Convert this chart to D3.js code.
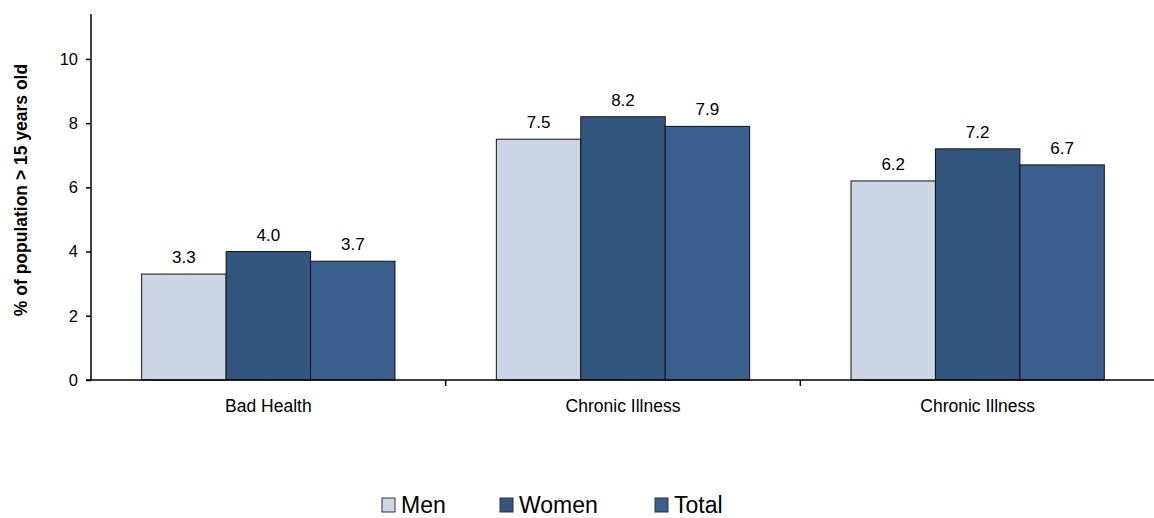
<!DOCTYPE html>
<html>
<head>
<meta charset="utf-8">
<script src="https://cdn.jsdelivr.net/npm/d3@7"></script>
<style>
  html, body { margin: 0; padding: 0; background: #fff; }
  svg { display: block; font-family: "Liberation Sans", Arial, sans-serif; }
</style>
</head>
<body>
<svg id="chart" width="1154" height="518"></svg>
<script>
// Health indicators by sex
const categories = ["Bad Health", "Chronic Illness", "Chronic Illness"];
const seriesNames = ["Men", "Women", "Total"];
const menValues = [3.3, 7.5, 6.2];
const womenValues = [4.0, 8.2, 7.2];
const totalValues = [3.7, 7.9, 6.7];
const yTicks = [0, 2, 4, 6, 8, 10];
const yMax = 11.4;
const colors = ["#CDD6E6", "#33567E", "#3B5F8C"];

const series = [menValues, womenValues, totalValues];

const svg = d3.select("#chart");
const margin = { left: 91, top: 14 };
const W = 1155;
const FONT = "Liberation Sans, Arial, sans-serif";

// one band per category, bars touching inside each band
const x0 = d3.scaleBand()
  .domain(d3.range(categories.length))
  .range([margin.left, W])
  .padding(0);

const x1 = d3.scaleBand()
  .domain(d3.range(seriesNames.length))
  .range([0, x0.bandwidth()])
  .paddingInner(0)
  .paddingOuter(0.6);

const y = d3.scaleLinear().domain([0, yMax]).range([380, margin.top]);

// bars
const groups = svg.append("g").selectAll("g")
  .data(categories)
  .join("g")
  .attr("transform", (d, i) => `translate(${x0(i)},0)`);

const cells = (d, i) => series.map((s, k) => ({ k, v: s[i] }));

groups.selectAll("rect")
  .data(cells)
  .join("rect")
  .attr("x", d => x1(d.k))
  .attr("y", d => y(d.v))
  .attr("width", x1.bandwidth())
  .attr("height", d => y(0) - y(d.v))
  .attr("fill", d => colors[d.k])
  .attr("stroke", "#111")
  .attr("stroke-width", 1);

// value labels above bars
groups.selectAll("text.val")
  .data(cells)
  .join("text")
  .attr("class", "val")
  .attr("x", d => x1(d.k) + x1.bandwidth() / 2)
  .attr("y", d => y(d.v) - 11)
  .attr("text-anchor", "middle")
  .attr("font-size", 17)
  .attr("fill", "#000")
  .text(d => d.v.toFixed(1));

// y axis
const yAxis = d3.axisLeft(y).tickValues(yTicks).tickSize(5).tickPadding(8).tickFormat(d3.format("d"));
const gy = svg.append("g").attr("transform", `translate(${margin.left},0)`).call(yAxis);
gy.select(".domain").attr("stroke", "#000").attr("stroke-width", 1.5)
  .attr("d", `M0,${y(yMax)}V${y(0)}`);
gy.selectAll(".tick line").attr("stroke", "#000").attr("stroke-width", 1.5);
gy.selectAll(".tick text").attr("font-size", 16.5).attr("fill", "#000")
  .attr("font-family", FONT);

// x axis with category separators
const gx = svg.append("g").attr("transform", `translate(0,${y(0)})`);
gx.append("line").attr("x1", margin.left - 5).attr("x2", W)
  .attr("stroke", "#000").attr("stroke-width", 1.5);
gx.selectAll("line.sep")
  .data(d3.range(1, categories.length))
  .join("line")
  .attr("class", "sep")
  .attr("x1", i => x0(i)).attr("x2", i => x0(i))
  .attr("y1", 0).attr("y2", 6)
  .attr("stroke", "#000").attr("stroke-width", 1.5);
gx.selectAll("text")
  .data(categories)
  .join("text")
  .attr("x", (d, i) => x0(i) + x0.bandwidth() / 2)
  .attr("y", 32)
  .attr("text-anchor", "middle")
  .attr("font-size", 17.5)
  .attr("fill", "#000")
  .text(d => d);

// y title
svg.append("text")
  .attr("transform", `translate(27,190) rotate(-90)`)
  .attr("text-anchor", "middle")
  .attr("font-size", 17.5)
  .attr("font-weight", "bold")
  .attr("fill", "#000")
  .text("% of population > 15 years old");

// legend
const legendX = [382, 500, 655];
const lg = svg.append("g").selectAll("g")
  .data(seriesNames)
  .join("g")
  .attr("transform", (d, i) => `translate(${legendX[i]},498)`);
lg.append("rect")
  .attr("width", 13).attr("height", 14)
  .attr("fill", (d, i) => colors[i])
  .attr("stroke", "#333").attr("stroke-width", 1);
lg.append("text")
  .attr("x", 19).attr("y", 15)
  .attr("font-size", 23)
  .attr("fill", "#000")
  .text(d => d);
</script>
</body>
</html>
